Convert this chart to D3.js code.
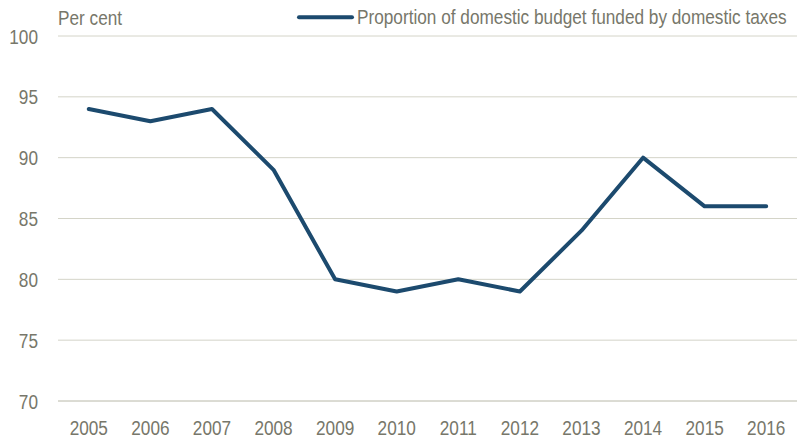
<!DOCTYPE html>
<html><head><meta charset="utf-8">
<script src="https://cdn.jsdelivr.net/npm/d3@7"></script>
<style>body{margin:0;background:#fff}text{font-family:"Liberation Sans",Arial,sans-serif}</style>
</head><body><svg id="c" width="798" height="441"></svg>
<script>
const years = ["2005","2006","2007","2008","2009","2010","2011","2012","2013","2014","2015","2016"];
const values = [94, 93, 94, 89, 80, 79, 80, 79, 84, 90, 86, 86];
const yTicks = [70, 75, 80, 85, 90, 95, 100];
const seriesName = "Proportion of domestic budget funded by domestic taxes";
const unitLabel = "Per cent";

(function () {
const svg = d3.select("#c");
const mLeft = 58, mRight = 797, mTop = 36, mBottom = 401;
const textColor = "#77776a";
const fs = 20.5, sx = 0.84;
const tf = (px, py) => `translate(${px},${py}) scale(${sx},1)`;
const x = d3.scaleBand().domain(years).range([mLeft, mRight]);
const y = d3.scaleLinear().domain([70, 100]).range([mBottom, mTop]);

svg.append("g").selectAll("line").data(yTicks).join("line")
  .attr("x1", mLeft).attr("x2", mRight)
  .attr("y1", d => y(d)).attr("y2", d => y(d))
  .attr("stroke", d => d === 70 ? "#b8b8a8" : "#d4d4c8").attr("stroke-width", 1);

svg.append("g").selectAll("text").data(yTicks).join("text")
  .attr("transform", d => tf(38, y(d) + 7.5))
  .attr("text-anchor", "end").attr("font-size", fs).attr("fill", textColor)
  .text(d => d);

svg.append("g").selectAll("text").data(years).join("text")
  .attr("transform", d => tf(x(d) + x.bandwidth() / 2, 435))
  .attr("text-anchor", "middle").attr("font-size", fs).attr("fill", textColor)
  .text(d => d);

svg.append("text").attr("transform", tf(58, 25)).attr("font-size", fs).attr("fill", textColor).text(unitLabel);

const line = d3.line().x((d, i) => x(years[i]) + x.bandwidth() / 2).y(d => y(d));
svg.append("path").datum(values).attr("d", line)
  .attr("fill", "none").attr("stroke", "#1c4a6e").attr("stroke-width", 4)
  .attr("stroke-linejoin", "round").attr("stroke-linecap", "round");

svg.append("line").attr("x1", 299).attr("x2", 352).attr("y1", 17.3).attr("y2", 17.3)
  .attr("stroke", "#1c4a6e").attr("stroke-width", 4).attr("stroke-linecap", "round");
svg.append("text").attr("transform", tf(357, 24)).attr("font-size", fs).attr("fill", textColor).text(seriesName);
})();
</script></body></html>
